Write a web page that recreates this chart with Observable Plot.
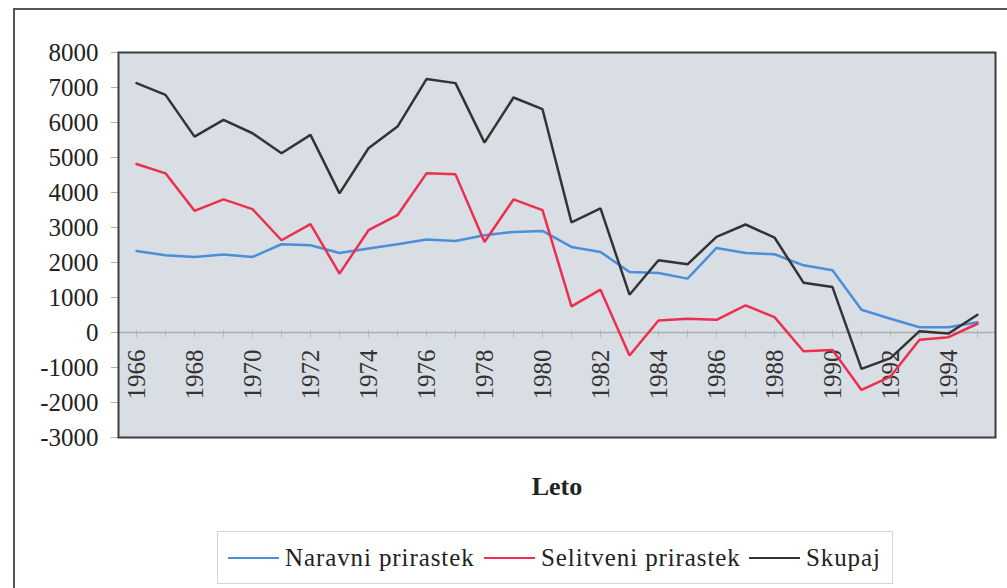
<!DOCTYPE html>
<html>
<head>
<meta charset="utf-8">
<script src="https://cdn.jsdelivr.net/npm/d3@7"></script>
<script src="https://cdn.jsdelivr.net/npm/@observablehq/plot@0.6"></script>
<style>
  body { margin: 0; background: #fff; width: 1007px; height: 588px; overflow: hidden; position: relative;
         font-family: 'Liberation Serif', serif; }
  #frame { position: absolute; left: 13px; top: 8px; width: 1100px; height: 700px;
           border-left: 2px solid #555; border-top: 2px solid #555; }
  #chart { position: absolute; left: 0; top: 0; }
  #xlabel { position: absolute; left: 457px; width: 200px; top: 472px; text-align: center;
            font-family: 'Liberation Serif', serif; font-weight: bold; font-size: 26px; color: #222; }
  #legend { position: absolute; left: 217px; top: 531px; width: 674px; height: 51px;
            border: 1px solid #d6d6d6; }
  .item { position: absolute; top: 0; height: 51px; display: flex; align-items: center; }
  .sw { width: 51px; height: 2px; margin-right: 6px; }
  .lt { font-family: 'Liberation Serif', serif; font-size: 25px; letter-spacing: 0.9px; color: #222; white-space: nowrap; }
  svg text { font-family: 'Liberation Serif', serif !important; }
</style>
</head>
<body>
<div id="frame"></div>
<div id="chart"></div>
<div id="xlabel">Leto</div>
<div id="legend"></div>
<script>
const years = d3.range(1966, 1996);
const labelYears = [1966,1968,1970,1972,1974,1976,1978,1980,1982,1984,1986,1988,1990,1992,1994];
const yTicks = [-3000,-2000,-1000,0,1000,2000,3000,4000,5000,6000,7000,8000];

const seriesNames = ["Naravni prirastek", "Selitveni prirastek", "Skupaj"];
const seriesColors = ["#4a8fd8", "#ec2f4f", "#333333"];

const naravni = [2330,2206,2158,2226,2158,2521,2493,2273,2398,2521,
                 2656,2616,2779,2874,2903,2444,2301,1728,1700,1539,
                 2415,2273,2235,1920,1777,650,392,152,152,295];
const selitveni = [4814,4547,3476,3802,3524,2636,3094,1682,2922,3352,
                   4547,4518,2587,3802,3496,745,1223,-659,344,392,
                   364,774,438,-536,-500,-1642,-1260,-210,-135,250];
const skupaj = [7125,6790,5596,6074,5693,5120,5645,3974,5264,5883,
                7240,7125,5424,6714,6380,3143,3544,1080,2063,1948,
                2731,3086,2713,1424,1298,-1040,-730,37,-30,507];

const seriesValues = [naravni, selitveni, skupaj];
const rows = [];
seriesNames.forEach((name, s) => years.forEach((yr, i) => rows.push({year: yr, value: seriesValues[s][i], series: name})));

const chart = Plot.plot({
  width: 1007,
  height: 450,
  marginLeft: 118,
  marginRight: 12,
  marginTop: 52,
  marginBottom: 13,
  style: { fontFamily: "'Liberation Serif', serif", fontSize: "25px", color: "#222", background: "transparent", overflow: "visible" },
  x: { type: "point", domain: years, padding: 0.5, axis: null },
  y: { domain: [-3000, 8000], axis: null },
  color: { domain: seriesNames, range: seriesColors },
  marks: [
    Plot.frame({ fill: "#d9dee5", stroke: "none" }),
    Plot.ruleY([0], { stroke: "#aab0b8", strokeWidth: 1.5 }),
    Plot.ruleX(years, { x: d => d, y1: -150, y2: 60, stroke: "#b4b9c1", strokeWidth: 1 }),
    Plot.axisY({ ticks: yTicks, tickSize: 7, stroke: "#b0b0b0", fill: "none", label: null }),
    Plot.axisY({ ticks: yTicks, tickSize: 0, tickPadding: 20, fill: "#222", stroke: "none", label: null, tickFormat: d => String(d) }),
    Plot.text(labelYears, { x: d => d, y: () => 0, text: d => String(d), rotate: -90, textAnchor: "end", lineAnchor: "middle", dy: 17, fill: "#333", fontSize: 25 }),
    Plot.line(rows, { x: "year", y: "value", z: "series", stroke: "series", strokeWidth: 2.5, strokeLinejoin: "miter" }),
    Plot.frame({ stroke: "#3c3c3c", strokeWidth: 2 })
  ]
});
document.getElementById("chart").appendChild(chart);

const legend = document.getElementById("legend");
const lefts = [10, 266, 531];
seriesNames.forEach((name, i) => {
  const item = document.createElement("div");
  item.className = "item";
  item.style.left = lefts[i] + "px";
  const sw = document.createElement("div");
  sw.className = "sw";
  sw.style.background = seriesColors[i];
  const t = document.createElement("span");
  t.className = "lt";
  t.textContent = name;
  item.appendChild(sw);
  item.appendChild(t);
  legend.appendChild(item);
});
</script>
</body>
</html>
